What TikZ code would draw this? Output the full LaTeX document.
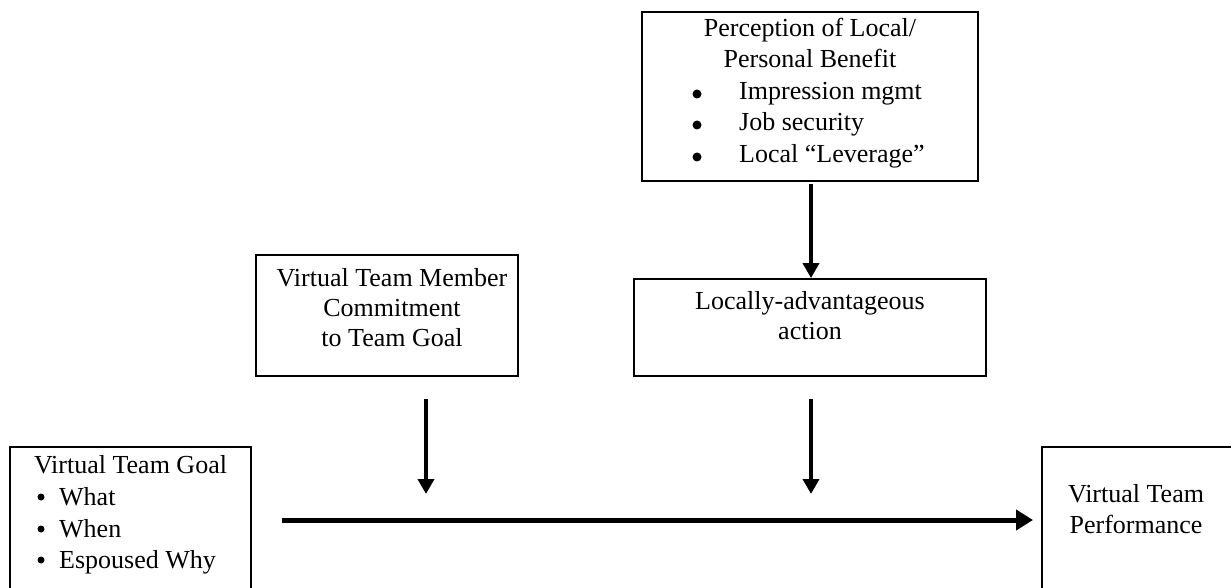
\documentclass[tikz,border=0pt]{standalone}
\usepackage{fontspec}
\setmainfont{Liberation Serif}
\usetikzlibrary{arrows.meta}
\tikzset{
  box/.style={draw, line width=1.8pt, rectangle, inner sep=0pt, fill=none},
  txt/.style={inner sep=0pt, anchor=base, font=\fontsize{26}{31}\selectfont},
  ltxt/.style={txt, anchor=base west},
  bigdot/.style={circle, fill, inner sep=0pt, minimum size=9pt},
  smalldot/.style={circle, fill, inner sep=0pt, minimum size=7pt},
  thinarrow/.style={line width=4pt, -{Triangle[length=15pt, width=16pt]}},
  mainarrow/.style={line width=5pt, -{Triangle[length=17pt, width=20pt]}}
}
\begin{document}
\begin{tikzpicture}[x=1pt, y=-1pt]
\clip (0,0) rectangle (1231,588);
\fill[white] (0,0) rectangle (1231,588);

% boxes
\node[box, minimum width=241pt, minimum height=173pt] (goal) at (130.5,533.5) {};
\node[box, minimum width=218pt, minimum height=173pt] (perf) at (1151,533.5) {};
\node[box, minimum width=336pt, minimum height=169pt] (percep) at (810,96.5) {};
\node[box, minimum width=262pt, minimum height=121pt] (member) at (387,315.5) {};
\node[box, minimum width=352pt, minimum height=97pt] (local) at (810,327.5) {};

% goal box text
\node[txt] (goalT) at (130.5,473) {Virtual Team Goal};
\node[smalldot] (gb1) at (41,497) {};
\node[smalldot] (gb2) at (41,529) {};
\node[smalldot] (gb3) at (41,560) {};
\node[ltxt] (gi1) at (59,505) {What};
\node[ltxt] (gi2) at (59,537) {When};
\node[ltxt] (gi3) at (59,568) {Espoused Why};

% perception box text
\node[txt] (pT1) at (810,37) {Perception of Local/};
\node[txt] (pT2) at (810,68) {Personal Benefit};
\node[bigdot] (pb1) at (697,94) {};
\node[bigdot] (pb2) at (697,125) {};
\node[bigdot] (pb3) at (697,157) {};
\node[ltxt] (pi1) at (739,100) {Impression mgmt};
\node[ltxt] (pi2) at (739,131) {Job security};
\node[ltxt] (pi3) at (739,163) {Local “Leverage”};

% member box text
\node[txt] (mT1) at (392,286) {Virtual Team Member};
\node[txt] (mT2) at (392,316) {Commitment};
\node[txt] (mT3) at (392,346) {to Team Goal};

% locally-advantageous box text
\node[txt] (lT1) at (810,309) {Locally-advantageous};
\node[txt] (lT2) at (810,339) {action};

% performance box text
\node[txt] (fT1) at (1136,502) {Virtual Team};
\node[txt] (fT2) at (1136,533) {Performance};

% connectors
\coordinate (mainS) at (282,520);
\coordinate (mainE) at (1033,520);
\coordinate (d1S) at (426,399);
\coordinate (d1E) at (426,494);
\coordinate (d2S) at (811,399);
\coordinate (d2E) at (811,494);
\draw[thinarrow] (percep.south -| 811,0) ++(0,2) -- (local.north -| 811,0);
\draw[thinarrow] (d1S) -- (d1E);
\draw[thinarrow] (d2S) -- (d2E);
\draw[mainarrow] (mainS) -- (mainE);
\end{tikzpicture}
\end{document}
